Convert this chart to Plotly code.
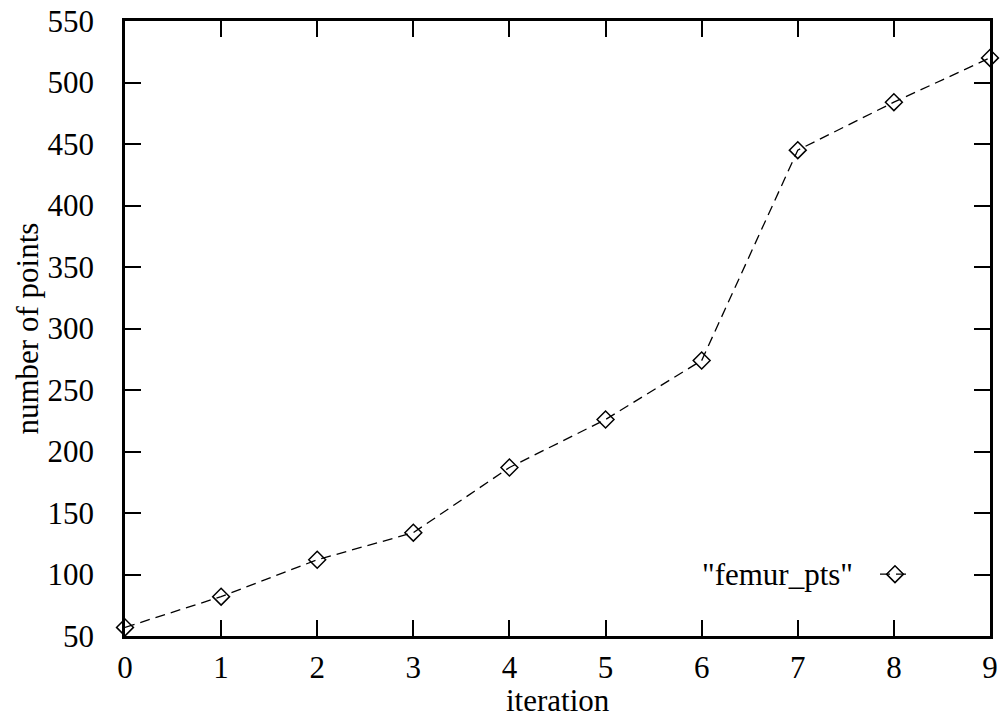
import plotly.graph_objects as go

iterations = [0, 1, 2, 3, 4, 5, 6, 7, 8, 9]
num_points = [57, 82, 112, 134, 187, 226, 274, 445, 484, 520]
series_name = '"femur_pts"'
x_ticks = [0, 1, 2, 3, 4, 5, 6, 7, 8, 9]
y_ticks = [50, 100, 150, 200, 250, 300, 350, 400, 450, 500, 550]

FONT = "Liberation Serif, Times New Roman, serif"

line_style = dict(color="black", width=1.3, dash="10px,6px")
marker_style = dict(symbol="diamond-open", size=13, color="black",
                    line=dict(color="black", width=1.5))

fig = go.Figure()
fig.add_trace(go.Scatter(
    x=iterations, y=num_points, name=series_name, mode="lines+markers",
    line=line_style, marker=marker_style, cliponaxis=False, showlegend=False,
))
# legend sample (no data drawn on the plot)
fig.add_trace(go.Scatter(
    x=[None], y=[None], name=" ", mode="lines+markers",
    line=line_style, marker=marker_style, showlegend=True,
))

axis_common = dict(
    showline=True, linecolor="black", linewidth=2.5, mirror="ticks",
    ticks="inside", ticklen=16, tickwidth=2, tickcolor="black",
    showgrid=False, zeroline=False, automargin=False,
    tickfont=dict(family=FONT, size=31, color="black"),
)

fig.update_layout(
    width=1003, height=717,
    margin=dict(l=125, r=13, t=21, b=81),
    paper_bgcolor="white", plot_bgcolor="white",
    font=dict(family=FONT, size=31, color="black"),
    xaxis=dict(range=[0, 9], tickvals=x_ticks, ticklabelstandoff=2,
               **axis_common),
    yaxis=dict(range=[50, 550], tickvals=y_ticks, ticklabelstandoff=22,
               **axis_common),
    legend=dict(x=(875 - 125) / 865, y=0.1, xanchor="left", yanchor="middle",
                bgcolor="rgba(0,0,0,0)", borderwidth=0,
                font=dict(family=FONT, size=31)),
    annotations=[
        dict(text=series_name, xref="paper", yref="paper",
             x=(855 - 125) / 865, y=0.1, xanchor="right",
             yanchor="middle", showarrow=False,
             font=dict(family=FONT, size=31, color="black")),
        dict(text="iteration", xref="paper", yref="paper",
             x=0.5, y=-(700 - 636) / 615, xanchor="center",
             yanchor="middle", showarrow=False,
             font=dict(family=FONT, size=31, color="black")),
        dict(text="number of points", xref="paper", yref="paper",
             x=-(125 - 27) / 865, y=0.5, xanchor="center",
             yanchor="middle", showarrow=False, textangle=-90,
             font=dict(family=FONT, size=31, color="black")),
    ],
)

fig.write_html("out.html", config={"displayModeBar": False},
               post_script="document.body.style.margin='0';"
                           "document.body.style.overflow='hidden';")
